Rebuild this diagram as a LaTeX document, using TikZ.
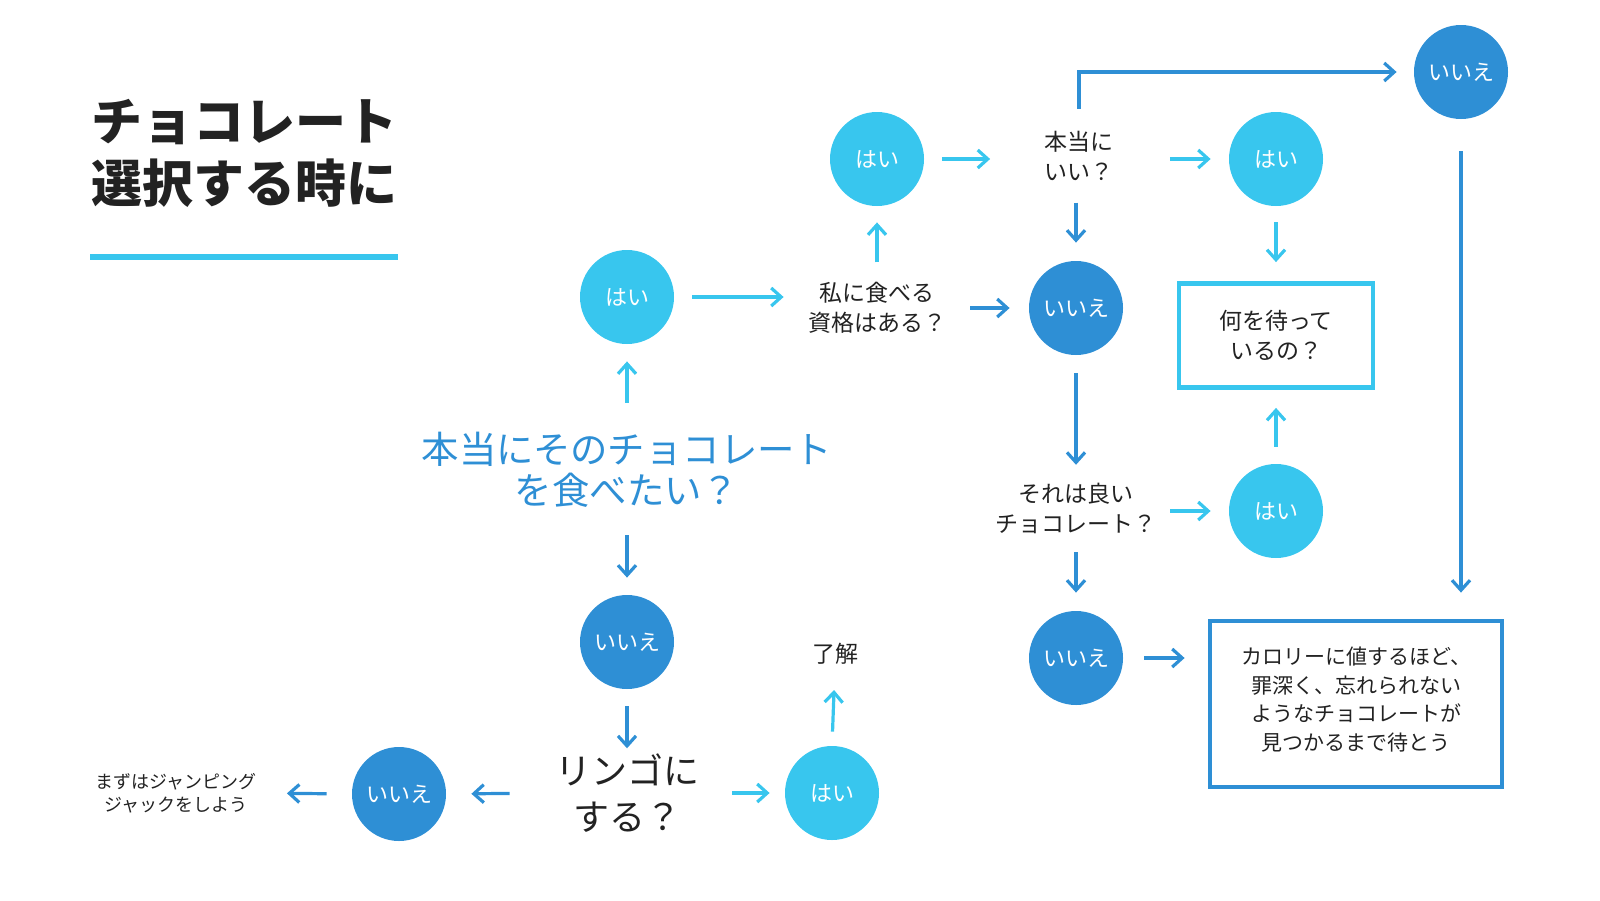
\documentclass[tikz,border=0pt]{standalone}
\usepackage{fontspec}
\setmainfont{Noto Sans CJK JP}
\usepackage{xcolor}
\usepackage{tikz}
\usetikzlibrary{arrows.meta}
\definecolor{lightblue}{HTML}{38C6EE}
\definecolor{darkblue}{HTML}{2E8FD5}
\definecolor{ink}{HTML}{222222}

\begin{document}
\begin{tikzpicture}[x=0.5pt,y=-0.5pt]%%choco

                \tikzstyle{hai}   = [circle, minimum size=47pt, inner sep=0pt, fill=lightblue, text=white, font=\fontsize{11}{13}\selectfont]
                \tikzstyle{iie}   = [hai, fill=darkblue]
                \tikzstyle{ask}   = [inner sep=0pt, align=center, text=ink, font=\fontsize{11.5}{15}\selectfont]
                \tikzstyle{frame} = [draw, line width=2.4pt, inner sep=0pt, align=center, text=ink]
                \tikzstyle{larr}  = [draw=lightblue, line width=1.6pt, -{Straight Barb[length=5pt,width=9pt]}]
                \tikzstyle{darr}  = [larr, draw=darkblue]
                \useasboundingbox (0,0) rectangle (1600,900);

                \node [anchor=west, align=left, inner sep=0pt, text=ink, font=\fontsize{25.5}{31}\selectfont\bfseries](title) at (91,153) {チョコレート\\選択する時に};
                \draw [lightblue, line width=3pt] (90,257) -- (398,257);

                \node [ask, text=darkblue, font=\fontsize{18.7}{20.5}\selectfont](want) at (627,470) {本当にそのチョコレート\\を食べたい？};
                \node [hai](A) at (627,297) {はい};
                \node [iie](B) at (627,642) {いいえ};
                \node [ask](eat) at (877,308) {私に食べる\\資格はある？};
                \node [hai](C) at (877,159) {はい};
                \node [iie](D) at (1076,308) {いいえ};
                \node [ask](sure) at (1079,156) {本当に\\いい？};
                \node [hai](E) at (1276,159) {はい};
                \node [iie](F) at (1461,72) {いいえ};
                \node [frame, draw=lightblue, minimum width=97pt, minimum height=52pt, font=\fontsize{11.5}{15}\selectfont](wait) at (1276,335.5) {何を待って\\いるの？};
                \node [ask](good) at (1076,508) {それは良い\\チョコレート？};
                \node [hai](G) at (1276,511) {はい};
                \node [iie](H) at (1076,658) {いいえ};
                \node [frame, draw=darkblue, minimum width=146pt, minimum height=83pt, text depth=5.3pt, font=\fontsize{10.5}{14.3}\selectfont](worth) at (1356,704) {カロリーに値するほど、\\罪深く、忘れられない\\ようなチョコレートが\\見つかるまで待とう};
                \node [ask, font=\fontsize{18}{23}\selectfont](apple) at (627,793) {リンゴに\\する？};
                \node [iie](I) at (399,794) {いいえ};
                \node [hai](J) at (832,793) {はい};
                \node [ask](ok) at (835,654) {了解};
                \node [ask, font=\fontsize{9}{11.7}\selectfont](jump) at (176,793) {まずはジャンピング\\ジャックをしよう};

                \draw [larr, shorten <=14.5pt, shorten >=8.5pt] (want.north) -- (A.south);
                \draw [darr, shorten <=13.5pt, shorten >=8.5pt] (want.south) -- (B.north);
                \draw [darr, shorten <=8.5pt, shorten >=2.5pt] (B.south) -- (apple.north);
                \draw [larr, shorten <=16.5pt, shorten >=7.5pt] (apple.east) -- (J.west);
                \draw [darr, shorten <=22.5pt, shorten >=12.5pt] (apple.west) -- (I.east);
                \draw [darr, shorten <=12.5pt, shorten >=15pt] (I.west) -- (jump.east);
                \draw [larr, shorten <=7pt, shorten >=12.5pt] (J.north) -- (ok.south);
                \draw [larr, shorten <=9pt, shorten >=12pt] (A.east) -- (A -| eat.west);
                \draw [larr, shorten <=9.75pt, shorten >=8pt] (eat.north) -- (C.south);
                \draw [darr, shorten <=12pt, shorten >=9.5pt] (eat.east) -- (D.west);
                \draw [larr, shorten <=9pt, shorten >=27pt] (C.east) -- (C -| sure.west);
                \draw [larr, shorten <=28pt, shorten >=9pt] (sure.east |- E) -- (E.west);
                \draw [darr, shorten <=10.75pt, shorten >=9pt] (D |- sure.south) -- (D.north);
                \draw [darr, shorten <=11pt, shorten >=8.5pt] (sure.north) |- (F.west);
                \draw [larr, shorten <=8pt, shorten >=9.5pt] (E.south) -- (wait.north);
                \draw [darr, shorten <=16pt, shorten >=13pt] (F.south) -- (F |- worth.north);
                \draw [darr, shorten <=9pt, shorten >=8.75pt] (D.south) -- (good.north);
                \draw [larr, shorten <=8.5pt, shorten >=9pt] (G.north) -- (wait.south);
                \draw [larr, shorten <=6.75pt, shorten >=9pt] (good.east |- G) -- (G.west);
                \draw [darr, shorten <=9.25pt, shorten >=9pt] (good.south) -- (H.north);
                \draw [darr, shorten <=10.5pt, shorten >=11.5pt] (H.east) -- (H -| worth.west);
\end{tikzpicture}
\end{document}
